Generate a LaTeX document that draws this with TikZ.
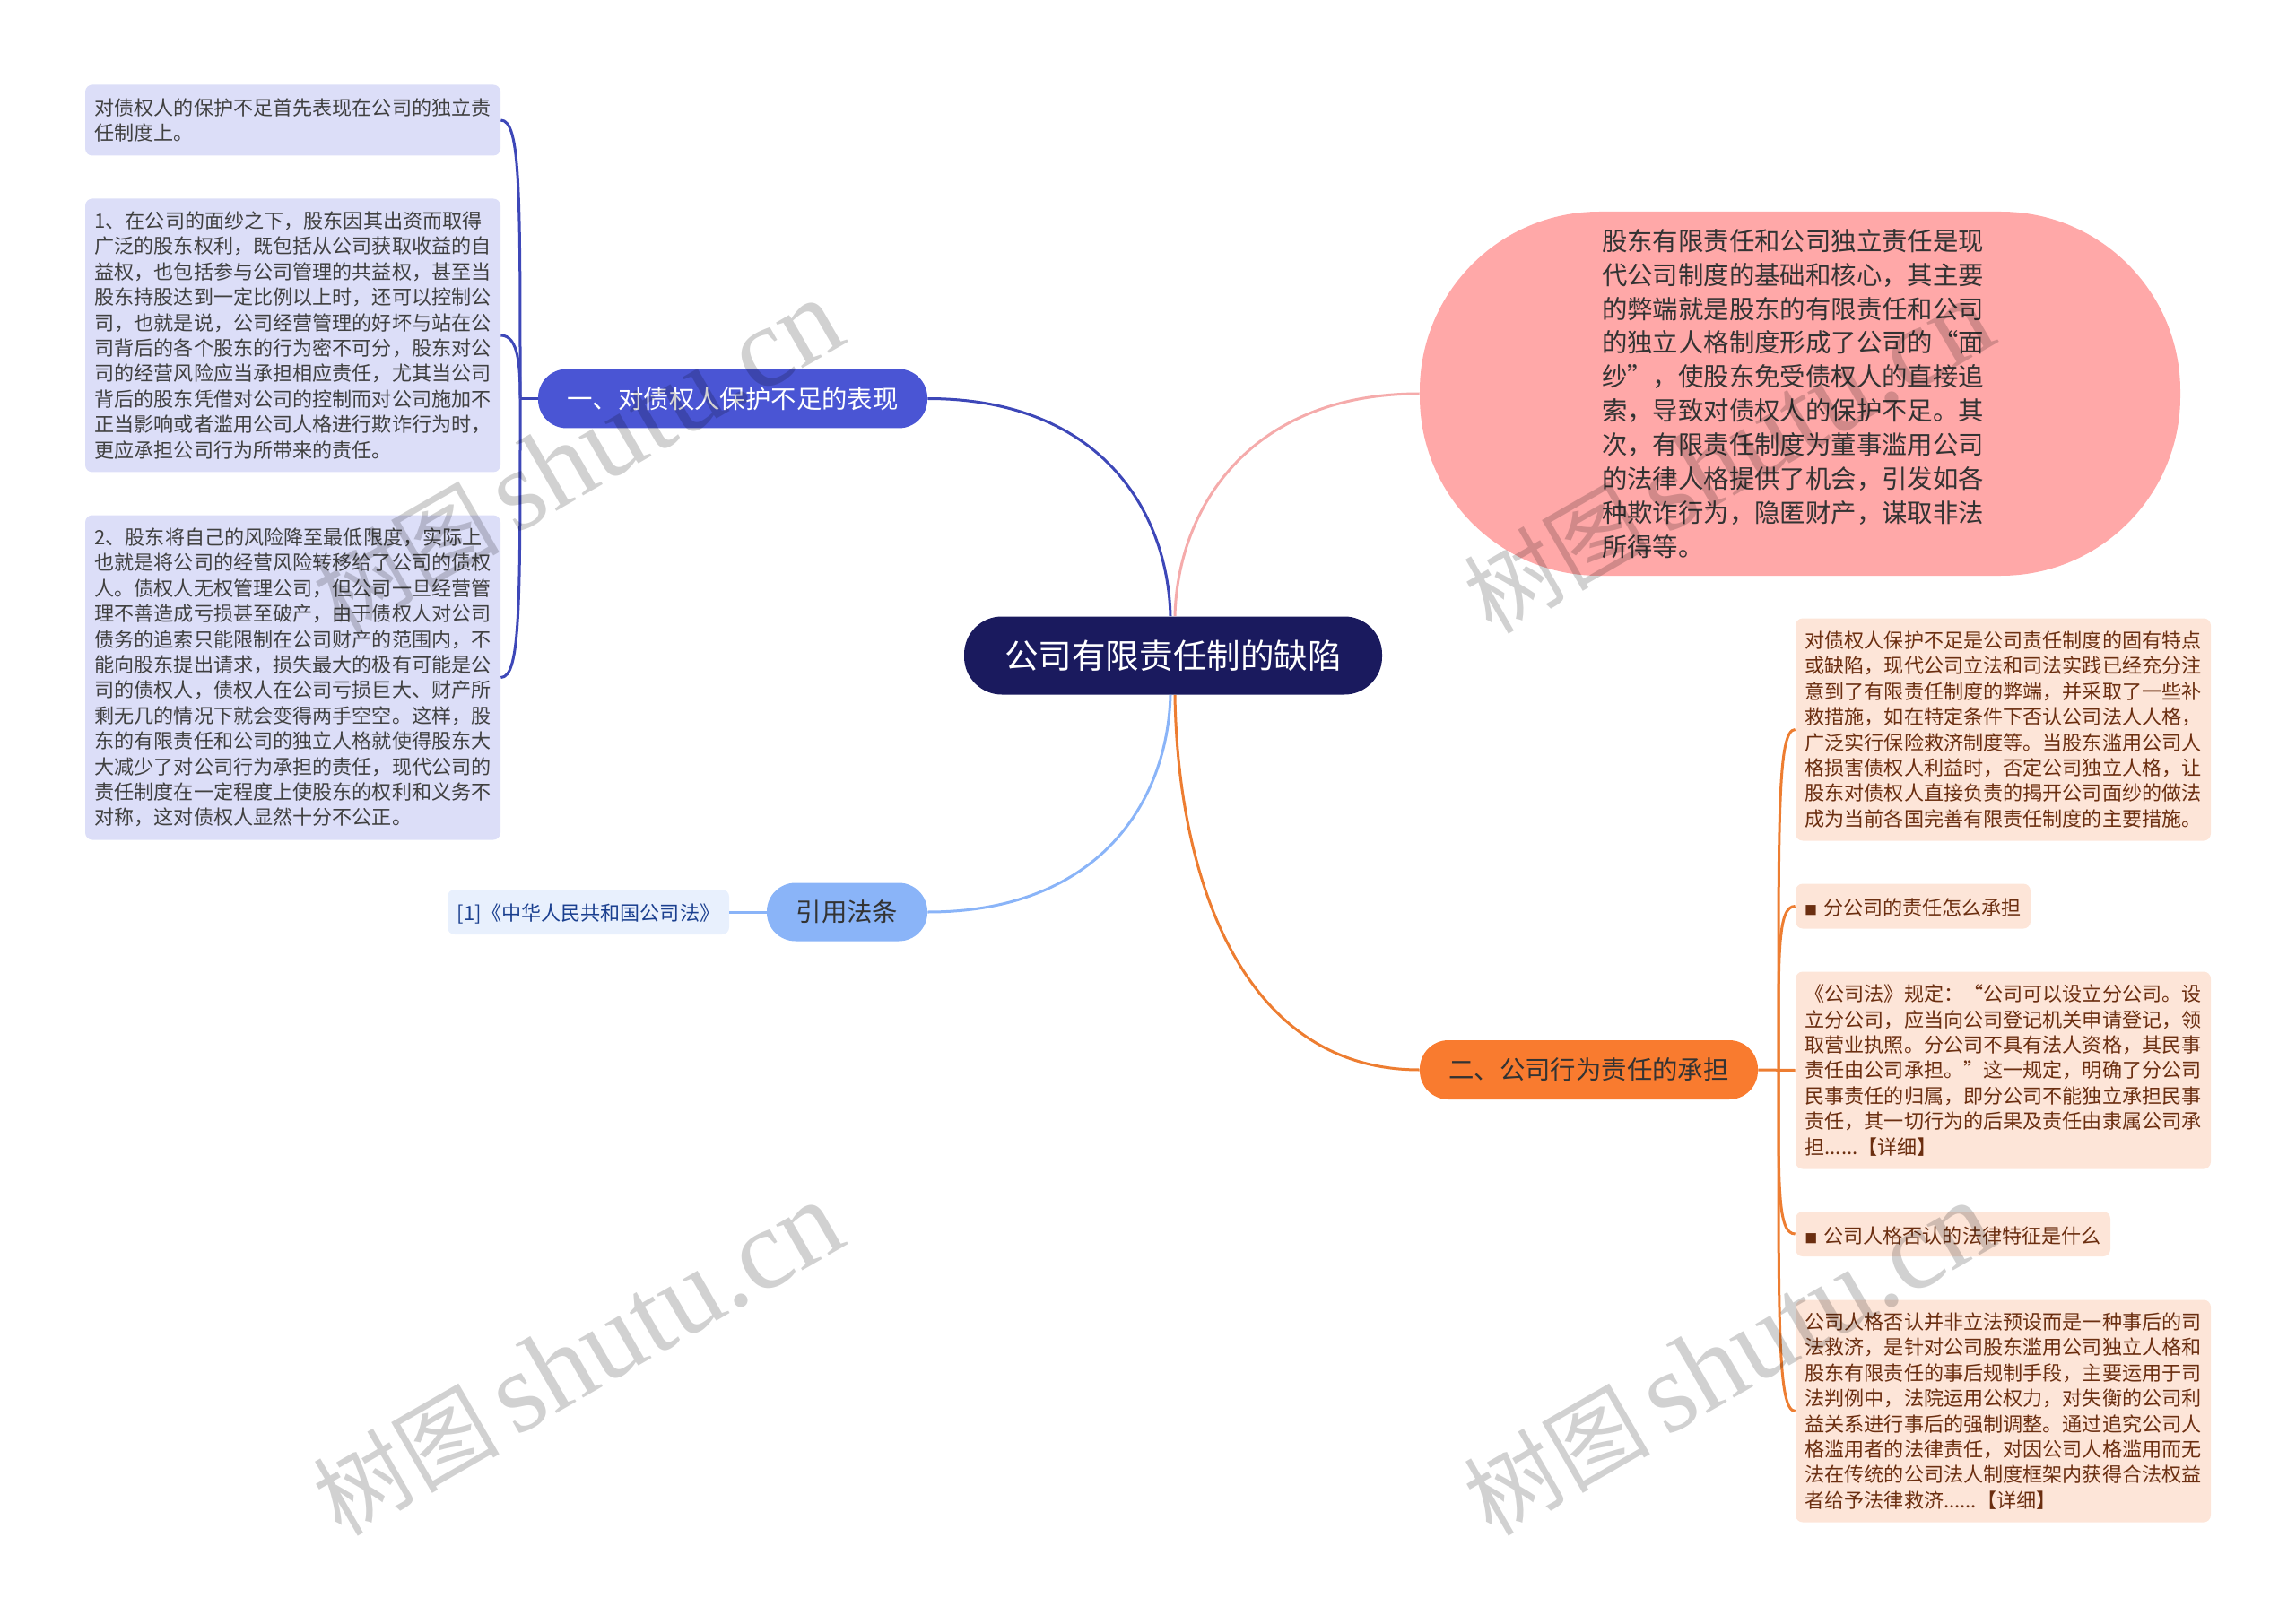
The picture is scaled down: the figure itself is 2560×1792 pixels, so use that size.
\documentclass[tikz,border=0pt]{standalone}
\usepackage{fontspec}
\setmainfont{Noto Sans CJK SC}
\newfontfamily\markserif{Liberation Serif}
\definecolor{rootfill}{HTML}{1A1A5E}
\definecolor{bluefill}{HTML}{4A55D4}
\definecolor{blueline}{HTML}{3D47B8}
\definecolor{blueleaf}{HTML}{DCDEF8}
\definecolor{skyfill}{HTML}{8AB4F8}
\definecolor{skyleaf}{HTML}{E8F0FD}
\definecolor{skytext}{HTML}{1A3F8F}
\definecolor{pinkfill}{HTML}{FFA8A8}
\definecolor{pinkline}{HTML}{F5ABAB}
\definecolor{orangefill}{HTML}{F97B2F}
\definecolor{orangeline}{HTML}{ED7D31}
\definecolor{orangeleaf}{HTML}{FDE5D8}
\definecolor{orangetext}{HTML}{6B2E10}
\tikzset{
    box/.style={inner sep=0pt, align=left, rounded corners=4pt},
    leafbox/.style={box, font=\fontsize{11.05}{14.2}\selectfont, execute at begin node={\rule{0pt}{11.3pt}}},
    blueleafbox/.style={leafbox, fill=blueleaf, text=black!75, minimum width=231.5pt},
    orangeleafbox/.style={leafbox, fill=orangeleaf, text=orangetext},
    branch/.style={box, minimum height=33pt, rounded corners=16pt, font=\fontsize{14.2}{18}\selectfont},
    link/.style={line width=1.5pt},
    watermark/.style={text=black, opacity=0.18, rotate=30}
}
\newcommand{\squaremark}{{\fontsize{7}{7}\selectfont\textcolor{orangetext}{■}}\hspace{3.5pt}}
\begin{document}
\begin{tikzpicture}[x=0.5pt, y=-0.5pt]
            \useasboundingbox (0, 0) rectangle (2560, 1792);

            %root and pink node
            \node[box, fill=rootfill, text=white, minimum width=233pt, minimum height=43.5pt, rounded corners=21pt, font=\fontsize{18.8}{22}\selectfont] (root) at (1308, 731) {公司有限责任制的缺陷};
            \node[box, fill=pinkfill, text=black!80, minimum width=424pt, minimum height=203pt, rounded corners=100pt, font=\fontsize{14.2}{18.95}\selectfont] (summary) at (2007, 439) {股东有限责任和公司独立责任是现\hspace*{8pt}\\
                代公司制度的基础和核心，其主要\\
                的弊端就是股东的有限责任和公司\\
                的独立人格制度形成了公司的“面\\
                纱”，使股东免受债权人的直接追\\
                索，导致对债权人的保护不足。其\\
                次，有限责任制度为董事滥用公司\\
                的法律人格提供了机会，引发如各\\
                种欺诈行为，隐匿财产，谋取非法\\
                所得等。};

            %left branch
            \node[branch, fill=bluefill, text=white, minimum width=217pt] (creditor) at (817, 444.5) {一、对债权人保护不足的表现};
            \coordinate (creditorhub) at (580, 444.5);
            \node[blueleafbox, minimum height=39.5pt] (creditora) at (326.5, 134) {对债权人的保护不足首先表现在公司的独立责\\
                任制度上。};
            \node[blueleafbox, minimum height=152.5pt] (creditorb) at (326.5, 374) {1、在公司的面纱之下，股东因其出资而取得\\
                广泛的股东权利，既包括从公司获取收益的自\\
                益权，也包括参与公司管理的共益权，甚至当\\
                股东持股达到一定比例以上时，还可以控制公\\
                司，也就是说，公司经营管理的好坏与站在公\\
                司背后的各个股东的行为密不可分，股东对公\\
                司的经营风险应当承担相应责任，尤其当公司\\
                背后的股东凭借对公司的控制而对公司施加不\\
                正当影响或者滥用公司人格进行欺诈行为时，\\
                更应承担公司行为所带来的责任。};
            \node[blueleafbox, minimum height=181pt] (creditorc) at (326.5, 755.5) {2、股东将自己的风险降至最低限度，实际上\\
                也就是将公司的经营风险转移给了公司的债权\\
                人。债权人无权管理公司，但公司一旦经营管\\
                理不善造成亏损甚至破产，由于债权人对公司\\
                债务的追索只能限制在公司财产的范围内，不\\
                能向股东提出请求，损失最大的极有可能是公\\
                司的债权人，债权人在公司亏损巨大、财产所\\
                剩无几的情况下就会变得两手空空。这样，股\\
                东的有限责任和公司的独立人格就使得股东大\\
                大减少了对公司行为承担的责任，现代公司的\\
                责任制度在一定程度上使股东的权利和义务不\\
                对称，这对债权人显然十分不公正。};

            %law branch
            \node[branch, fill=skyfill, text=black!80, minimum width=89.5pt, minimum height=32.5pt] (law) at (944.5, 1017) {引用法条};
            \node[leafbox, fill=skyleaf, text=skytext, minimum width=157pt, minimum height=25pt] (lawleaf) at (656, 1017) {[1]《中华人民共和国公司法》};

            %right branch
            \node[branch, fill=orangefill, text=black!80, minimum width=188.5pt] (conduct) at (1771.5, 1193) {二、公司行为责任的承担};
            \coordinate (conducthub) at (1983, 1193);
            \node[orangeleafbox, minimum width=231.5pt, minimum height=124pt] (conducta) at (2233.5, 813.5) {对债权人保护不足是公司责任制度的固有特点\\
                或缺陷，现代公司立法和司法实践已经充分注\\
                意到了有限责任制度的弊端，并采取了一些补\\
                救措施，如在特定条件下否认公司法人人格，\\
                广泛实行保险救济制度等。当股东滥用公司人\\
                格损害债权人利益时，否定公司独立人格，让\\
                股东对债权人直接负责的揭开公司面纱的做法\\
                成为当前各国完善有限责任制度的主要措施。};
            \node[orangeleafbox, minimum width=131pt, minimum height=25pt] (conductb) at (2133, 1010.5) {\squaremark 分公司的责任怎么承担};
            \node[orangeleafbox, minimum width=231.5pt, minimum height=110pt] (conductc) at (2233.5, 1193.5) {《公司法》规定：“公司可以设立分公司。设\\
                立分公司，应当向公司登记机关申请登记，领\\
                取营业执照。分公司不具有法人资格，其民事\\
                责任由公司承担。”这一规定，明确了分公司\\
                民事责任的归属，即分公司不能独立承担民事\\
                责任，其一切行为的后果及责任由隶属公司承\\
                担......【详细】};
            \node[orangeleafbox, minimum width=175.5pt, minimum height=25pt] (conductd) at (2177.5, 1376) {\squaremark 公司人格否认的法律特征是什么};
            \node[orangeleafbox, minimum width=231.5pt, minimum height=124pt] (conducte) at (2233.5, 1573.5) {公司人格否认并非立法预设而是一种事后的司\\
                法救济，是针对公司股东滥用公司独立人格和\\
                股东有限责任的事后规制手段，主要运用于司\\
                法判例中，法院运用公权力，对失衡的公司利\\
                益关系进行事后的强制调整。通过追究公司人\\
                格滥用者的法律责任，对因公司人格滥用而无\\
                法在传统的公司法人制度框架内获得合法权益\\
                者给予法律救济......【详细】};

            %main links
            \draw[link, blueline] (creditor.east) .. controls +(190, 0) and +(-3, -120) .. ([xshift=-1.5pt]root.north);
            \draw[link, pinkline] (summary.west) .. controls +(-190, 0) and +(3, -120) .. ([xshift=1pt]root.north);
            \draw[link, skyfill] (law.east) .. controls +(190, 0) and +(-3, 120) .. ([xshift=-1.5pt]root.south);
            \draw[link, orangeline] (conduct.west) .. controls +(-200, 0) and +(3, 200) .. ([xshift=1pt]root.south);

            %leaf links
            \draw[link, blueline] (creditor.west) -- (creditorhub);
            \draw[link, blueline] (creditora.east) .. controls +(22, 0) and +(0, -230) .. (creditorhub);
            \draw[link, blueline] (creditorb.east) .. controls +(20, 0) and +(0, -35) .. (creditorhub);
            \draw[link, blueline] (creditorc.east) .. controls +(22, 0) and +(0, 230) .. (creditorhub);
            \draw[link, skyfill] (law.west) -- (lawleaf.east);
            \draw[link, orangeline] (conduct.east) -- (conductc.west);
            \draw[link, orangeline] (conducta.west) .. controls +(-20, 0) and +(0, -280) .. (conducthub);
            \draw[link, orangeline] (conductb.west) .. controls +(-20, 0) and +(0, -130) .. (conducthub);
            \draw[link, orangeline] (conductd.west) .. controls +(-20, 0) and +(0, 130) .. (conducthub);
            \draw[link, orangeline] (conducte.west) .. controls +(-20, 0) and +(0, 280) .. (conducthub);

            %watermarks
            \foreach \markname/\markx/\marky in {marka/644/510, markb/1927/510, markc/644/1516, markd/1927/1516} {
                \node[watermark] (\markname) at (\markx, \marky) {\fontsize{52}{52}\selectfont 树图\,{\fontsize{64}{64}\selectfont\markserif shutu.cn}};
            }
        \end{tikzpicture}
\end{document}
